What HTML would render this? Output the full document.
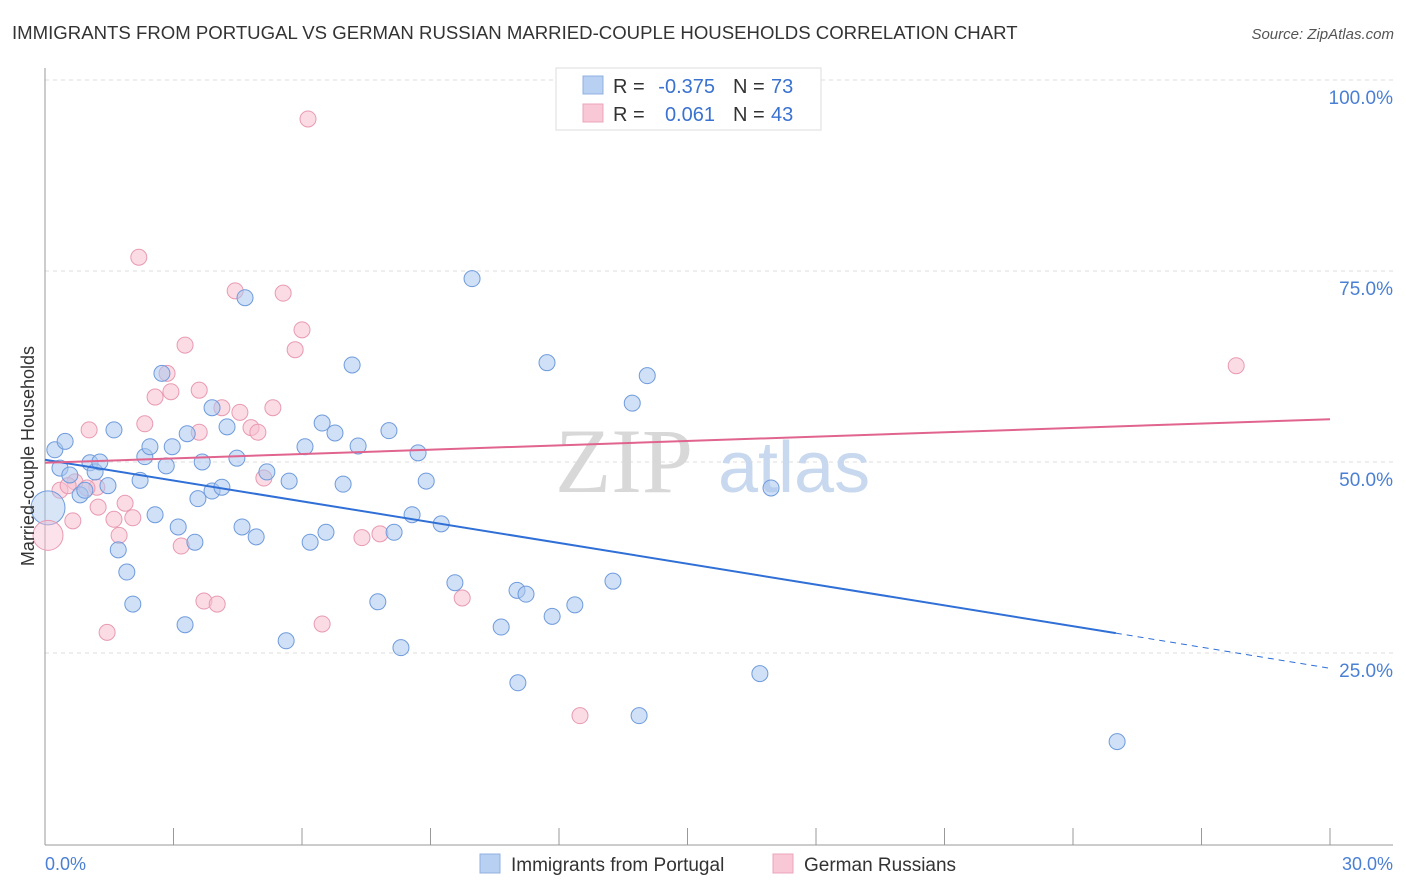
<!DOCTYPE html>
<html><head><meta charset="utf-8"><style>
body{margin:0;background:#fff;width:1406px;height:892px;overflow:hidden;font-family:"Liberation Sans",sans-serif}
</style></head><body>
<svg id="chart" width="1406" height="892" style="position:absolute;left:0;top:0">
<text x="12" y="39" font-size="18.6" fill="#333">IMMIGRANTS FROM PORTUGAL VS GERMAN RUSSIAN MARRIED-COUPLE HOUSEHOLDS CORRELATION CHART</text>
<text x="1394" y="39" font-size="15" fill="#555" font-style="italic" text-anchor="end">Source: ZipAtlas.com</text>
<g id="grid"></g>
<text x="555" y="492" font-size="92" fill="#d8d8d8" font-family="Liberation Serif,serif">ZIP</text>
<text x="718" y="492" font-size="72" fill="#c8d8ee">atlas</text>
<g id="marks"></g>
<text x="34" y="456" font-size="18" fill="#333" text-anchor="middle" transform="rotate(-90 34 456)">Married-couple Households</text>
<text x="45" y="870" font-size="18" fill="#4a7fd4">0.0%</text>
<text x="1393" y="870" font-size="18" fill="#4a7fd4" text-anchor="end">30.0%</text>
<g>
<rect x="556" y="68" width="265" height="62" fill="#fff" stroke="#ddd"/>
<rect x="583" y="76" width="20" height="18" fill="#b8d0f2" stroke="#8fb0e0"/>
<rect x="583" y="104" width="20" height="18" fill="#f8c8d6" stroke="#eba5bb"/>
<text x="613" y="93" font-size="20" fill="#333">R =</text>
<text x="715" y="93" font-size="20" fill="#3a72d0" text-anchor="end">-0.375</text>
<text x="733" y="93" font-size="20" fill="#333">N =</text>
<text x="771" y="93" font-size="20" fill="#3a72d0">73</text>
<text x="613" y="121" font-size="20" fill="#333">R =</text>
<text x="715" y="121" font-size="20" fill="#3a72d0" text-anchor="end">0.061</text>
<text x="733" y="121" font-size="20" fill="#333">N =</text>
<text x="771" y="121" font-size="20" fill="#3a72d0">43</text>
</g>
<g>
<rect x="480" y="854" width="20" height="19" fill="#b8d0f2" stroke="#8fb0e0"/>
<text x="511" y="871" font-size="19" fill="#333">Immigrants from Portugal</text>
<rect x="773" y="854" width="20" height="19" fill="#f8c8d6" stroke="#eba5bb"/>
<text x="804" y="871" font-size="19" fill="#333">German Russians</text>
</g>
</svg>
<script>
const yTicks=[25,50,75,100];
const yTickLabels=["25.0%","50.0%","75.0%","100.0%"];
const blueX=[0.23,0.47,0.35,0.58,0.82,0.93,1.05,1.17,1.28,1.47,1.61,1.71,1.91,2.05,2.22,2.33,2.45,2.57,2.73,2.83,2.97,3.11,3.27,3.32,3.50,3.57,3.67,3.90,3.90,4.13,4.25,4.48,4.60,4.67,4.93,5.18,5.63,5.70,6.07,6.19,6.47,6.56,6.77,6.96,7.17,7.31,7.77,8.03,8.15,8.31,8.57,8.71,8.90,9.25,9.57,9.97,10.65,11.02,11.04,11.23,11.72,11.84,12.37,13.26,13.71,13.87,14.06,16.69,16.95,25.03];
const blueY=[51.6,52.7,49.2,48.3,45.7,46.3,49.9,48.7,50.0,46.9,54.2,38.5,35.6,31.4,47.6,50.7,52.0,43.1,61.6,49.5,52.0,41.5,28.7,53.7,39.5,45.2,50.0,57.1,46.2,46.7,54.6,50.5,41.5,71.5,40.2,48.7,26.6,47.5,52.0,39.5,55.1,40.8,53.8,47.1,62.7,52.1,31.7,54.1,40.8,25.7,43.1,51.2,47.5,41.9,34.2,74.0,28.4,33.2,21.1,32.7,63.0,29.8,31.3,34.4,57.7,16.8,61.3,22.3,46.6,13.4];
const pinkX=[6.14,2.19,4.44,5.56,6.00,5.84,3.27,2.85,3.60,2.57,2.94,4.13,4.55,5.32,2.33,3.60,1.03,4.81,4.97,5.11,0.35,0.70,0.54,1.21,0.98,1.87,1.24,1.61,2.05,0.65,1.73,3.18,7.40,7.82,3.71,4.02,6.47,1.45,9.74,12.49,27.81];
const pinkY=[94.9,76.8,72.4,72.1,67.3,64.7,65.3,61.6,59.4,58.5,59.2,57.1,56.5,57.1,55.0,53.9,54.2,54.5,53.9,47.9,46.3,47.4,46.9,46.7,46.6,44.6,44.1,42.5,42.7,42.3,40.4,39.0,40.1,40.6,31.8,31.4,28.8,27.7,32.2,16.8,62.6];
const bigBlue=[0.07,44.0], bigPink=[0.07,40.4];
const blueTrend=[50.3,27.6,23.0], pinkTrend=[49.9,55.6];
const X=v=>45+v/30*1285, Y=v=>844-v*7.64;
const NS="http://www.w3.org/2000/svg";
function mk(p,t,a){const e=document.createElementNS(NS,t);for(const k in a)e.setAttribute(k,a[k]);p.appendChild(e);return e;}
const grid=document.getElementById('grid'), marks=document.getElementById('marks');
yTicks.forEach((t,i)=>{
 const l=mk(grid,'line',{x1:45,x2:1393,y1:Y(t),y2:Y(t),stroke:'#ddd','stroke-dasharray':'4 4'});
 
 
 const tx=mk(grid,'text',{x:1393,y:Y(t)+24,'font-size':19,fill:'#4a7fd4','text-anchor':'end'});
 tx.textContent=yTickLabels[i];
 
 
});
const ax=mk(grid,'line',{x1:45,x2:45,y1:68,y2:845,stroke:'#999'});


const bx=mk(grid,'line',{x1:45,x2:1393,y1:845,y2:845,stroke:'#999'});


for(let i=0;i<=10;i++){const t=mk(grid,'line',{x1:X(i*3),x2:X(i*3),y1:828,y2:845,stroke:'#999'});
 
 }
function dots(xs,ys,fill,stroke,name){xs.forEach((x,i)=>{const c=mk(marks,'circle',{cx:X(x),cy:Y(ys[i]),r:8,fill:fill,stroke:stroke,'stroke-width':1,'fill-opacity':0.55});
 
 });}
dots(pinkX,pinkY,'#f8bfd0','#e89ab2','pink-point');
dots(blueX,blueY,'#a9c6ee','#6f9bdc','blue-point');
const bb=mk(marks,'circle',{cx:X(bigBlue[0]),cy:Y(bigBlue[1]),r:17,fill:'#a9c6ee','fill-opacity':0.45,stroke:'#6f9bdc'});


const bp=mk(marks,'circle',{cx:X(bigPink[0]),cy:Y(bigPink[1]),r:15,fill:'#f8bfd0','fill-opacity':0.45,stroke:'#e89ab2'});


const l1=mk(marks,'line',{x1:X(0),y1:Y(blueTrend[0]),x2:X(25),y2:Y(blueTrend[1]),stroke:'#2f6fd6','stroke-width':2});


const l2=mk(marks,'line',{x1:X(25),y1:Y(blueTrend[1]),x2:X(30),y2:Y(blueTrend[2]),stroke:'#2f6fd6','stroke-width':1,'stroke-dasharray':'6 5'});


const l3=mk(marks,'line',{x1:X(0),y1:Y(pinkTrend[0]),x2:X(30),y2:Y(pinkTrend[1]),stroke:'#e0648e','stroke-width':2});


</script>
</body></html>
